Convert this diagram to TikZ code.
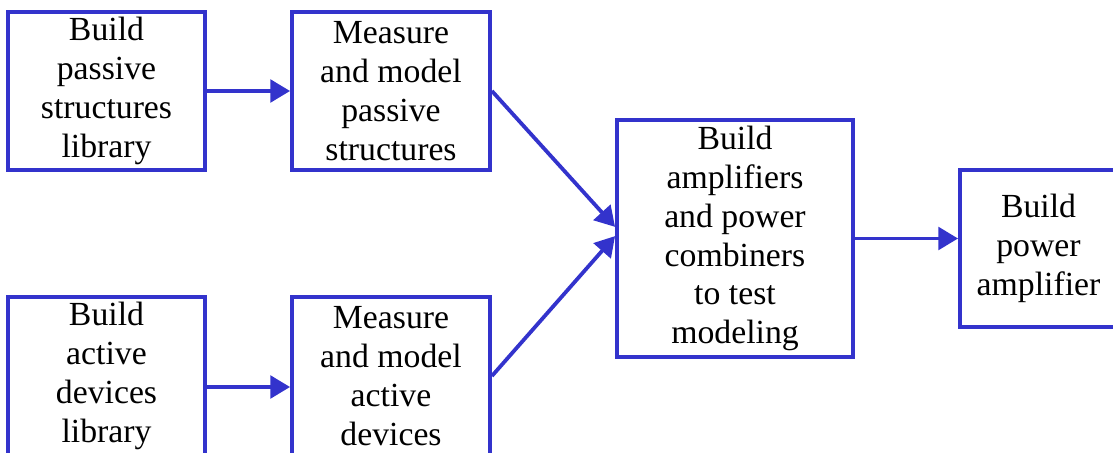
\documentclass[tikz,border=0pt]{standalone}
\usepackage{fontspec}
\setmainfont{Liberation Serif}
\usetikzlibrary{arrows.meta}
\definecolor{boxblue}{RGB}{51,51,204}
\tikzset{
	blok/.style={draw=boxblue, line width=2.7pt, align=center, inner sep=0pt,
		font=\fontsize{24}{27.7}\selectfont},
	pijl/.style={draw=boxblue, line width=2.7pt, -{Triangle[length=14pt,width=16pt]}}
}
\begin{document}
\begin{tikzpicture}[x=0.025cm, y=-0.025cm]
	\useasboundingbox (0,0) rectangle (1113,453);
	\node[blok, minimum width=4.925cm, minimum height=3.95cm] (bps) at (106.5,91) {Build\\passive\\structures\\library};
	\node[blok, minimum width=4.95cm, minimum height=3.95cm] (mps) at (391,91) {Measure\\and model\\passive\\structures};
	\node[blok, minimum width=4.925cm, minimum height=3.95cm] (bad) at (106.5,376) {Build\\active\\devices\\library};
	\node[blok, minimum width=4.95cm, minimum height=3.95cm] (mad) at (391,376) {Measure\\and model\\active\\devices};
	\node[blok, minimum width=5.9cm, minimum height=5.925cm] (bam) at (735,238.5) {Build\\amplifiers\\and power\\combiners\\to test\\modeling};
	\node[blok, minimum width=3.925cm, minimum height=3.925cm] (bpa) at (1038.5,248.5) {Build\\power\\amplifier};
	\draw[pijl] (bps) -- (mps);
	\draw[pijl] ([yshift=-0.275cm]bad.east) -- ([yshift=-0.275cm]mad.west);
	\draw[pijl] (mps.east) -- ([yshift=0.29cm]bam.west);
	\draw[pijl] (mad.east) -- ([yshift=0.06cm]bam.west);
	\draw[pijl] (bam.east) -- (bam.east -| bpa.west);
\end{tikzpicture}
\end{document}
